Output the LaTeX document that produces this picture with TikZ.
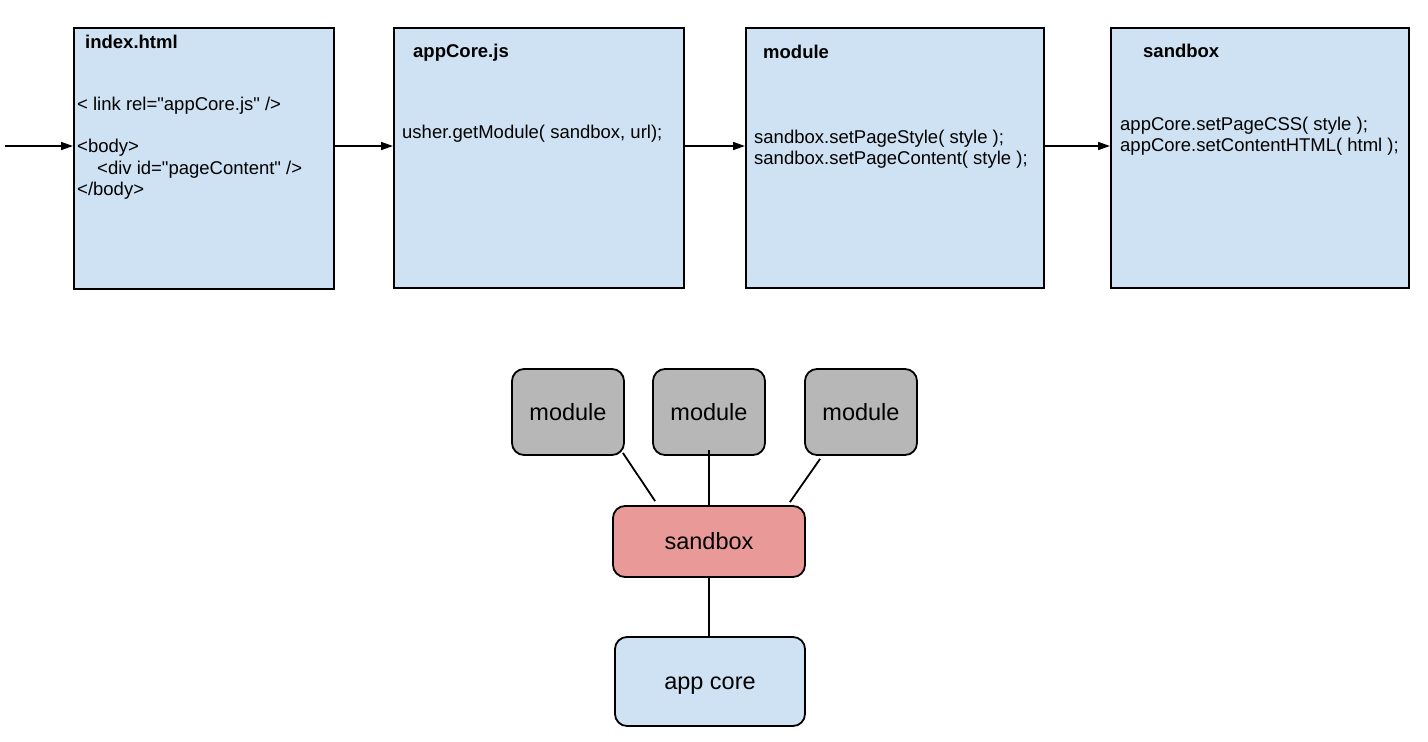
\documentclass[tikz,border=0pt]{standalone}
\usepackage{fontspec}
\setmainfont{Liberation Sans}[Ligatures=TeXOff]
\usetikzlibrary{arrows.meta,calc}
\definecolor{boxblue}{HTML}{CFE2F3}
\definecolor{modgray}{HTML}{B7B7B7}
\definecolor{sbpink}{HTML}{EA9999}
\begin{document}
\begin{tikzpicture}[x=1pt,y=-1pt,
  topbox/.style={draw=black,line width=2pt,fill=boxblue,anchor=north west,inner sep=0pt},
  ttl/.style={anchor=base west,inner sep=0pt,font=\fontsize{18.5}{21.5}\selectfont\bfseries},
  body/.style={anchor=base west,inner sep=0pt,font=\fontsize{18.5}{21.5}\selectfont},
  flow/.style={line width=1.6pt,-{Triangle[length=12pt,width=8pt]}},
  rbox/.style={draw=black,line width=1.8pt,rounded corners=12pt,inner sep=0pt,text height=21pt,text depth=5pt,font=\fontsize{23.5}{26}\selectfont},
  link/.style={line width=1.8pt}]
\useasboundingbox (0,0) rectangle (1428,742);
% top boxes
\node[topbox,minimum width=260pt,minimum height=261pt] (idx) at (73,27) {};
\node[topbox,minimum width=290pt,minimum height=260pt] (core) at (393,27) {};
\node[topbox,minimum width=298pt,minimum height=260pt] (mod) at (745,27) {};
\node[topbox,minimum width=298pt,minimum height=260pt] (sbx) at (1110,27) {};
% titles
\node[ttl] (t1) at (85,48) {index.html};
\node[ttl] (t2) at (413,57) {appCore.js};
\node[ttl] (t3) at (763,58) {module};
\node[ttl] (t4) at (1143,57) {sandbox};
% body texts
\node[body] (b1a) at (77,110) {< link rel="appCore.js" />};
\node[body] (b1b) at (77,152) {<body>};
\node[body] (b1c) at (97,174) {<div id="pageContent" />};
\node[body] (b1d) at (77,195) {</body>};
\node[body] (b2) at (402,138) {usher.getModule( sandbox, url);};
\node[body] (b3a) at (754,143) {sandbox.setPageStyle( style );};
\node[body] (b3b) at (754,164) {sandbox.setPageContent( style );};
\node[body] (b4a) at (1120,130) {appCore.setPageCSS( style );};
\node[body] (b4b) at (1120,151) {appCore.setContentHTML( html );};
% arrows
\coordinate (row) at (0,146);
\coordinate (start) at (5,146);
\draw[flow] (start) -- (idx.west |- row);
\draw[flow] (idx.east |- row) -- (core.west |- row);
\draw[flow] (core.east |- row) -- (mod.west |- row);
\draw[flow] (mod.east |- row) -- (sbx.west |- row);
% bottom diagram
\node[rbox,fill=modgray,minimum width=112pt,minimum height=86pt] (m1) at (568,412) {module};
\node[rbox,fill=modgray,minimum width=112pt,minimum height=86pt] (m2) at (709,412) {module};
\node[rbox,fill=modgray,minimum width=112pt,minimum height=86pt] (m3) at (861,412) {module};
\node[rbox,fill=sbpink,minimum width=192pt,minimum height=71pt] (sb) at (709,541.5) {sandbox};
\node[rbox,fill=boxblue,minimum width=190pt,minimum height=89pt] (ac) at (710,681.5) {app core};
\draw[link] ($(m1.south east)+(-2,-3)$) -- ($(sb.north west)+(43,-4)$);
\draw[link] ($(m2.south)+(0,-6)$) -- (sb.north);
\draw[link] ($(m3.south west)+(16,3)$) -- ($(sb.north east)+(-16,-3)$);
\draw[link] (sb.south) -- (sb.south |- ac.north);
\end{tikzpicture}
\end{document}
